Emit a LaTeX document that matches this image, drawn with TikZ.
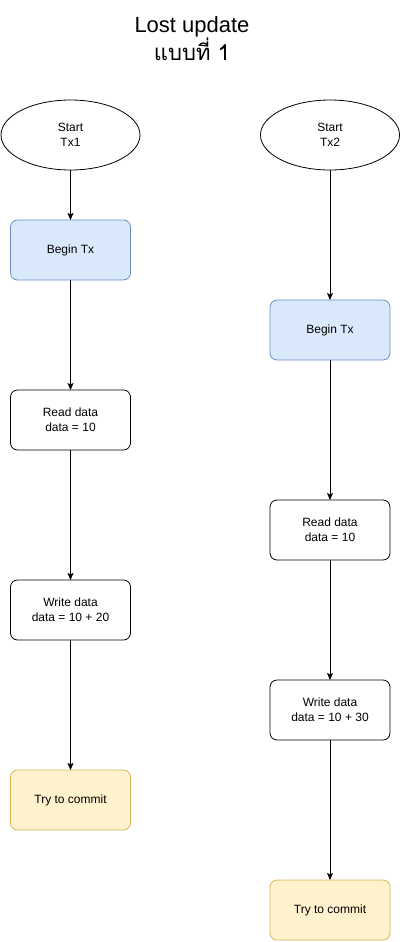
\documentclass[tikz,border=0pt]{standalone}
\usepackage{fontspec}
\setmainfont{Liberation Sans}
\newfontfamily\thaifont[Script=Thai]{Loma}
\usepackage{xcolor}
\usetikzlibrary{shapes.geometric}
\usetikzlibrary{arrows.meta, positioning}

\definecolor{txblue}{HTML}{DAE8FC}
\definecolor{txblueline}{HTML}{6C8EBF}
\definecolor{txyellow}{HTML}{FFF2CC}
\definecolor{txyellowline}{HTML}{D6B656}

\begin{document}
\begin{tikzpicture} [
       x=1pt, y=1pt,
       every path/.append style={line width=0.8pt},
       startnode/.style={ellipse, draw, inner sep=0pt, outer sep=0pt,
               minimum width=139pt, minimum height=70pt,
               align=center, font=\fontsize{12}{15}\selectfont},
       stepbox/.style={rectangle, draw, rounded corners=7pt,
               inner sep=0pt, outer sep=0pt,
               minimum width=120pt, minimum height=60pt,
               align=center, font=\fontsize{12}{15}\selectfont},
       beginbox/.style={stepbox, draw=txblueline, fill=txblue},
       commitbox/.style={stepbox, draw=txyellowline, fill=txyellow},
       line/.style     = { draw, line width=0.8pt,
               -{Stealth[length=7pt, width=6pt, inset=1.5pt]} },
       ]
       \useasboundingbox (0,0) rectangle (402,-942);
       \node (title) [align=center, font=\fontsize{22}{28}\selectfont] at (192,-39)
               {Lost update\\{\thaifont แบบที่ 1}};
       % transaction 1
       \node (start1) [startnode] at (70.5,-135) {Start\\Tx1};
       \node (begin1) [beginbox, below=50pt of start1] {Begin Tx};
       \node (read1) [stepbox, below=110pt of begin1] {Read data\\data = 10};
       \node (write1) [stepbox, below=130pt of read1] {Write data\\data = 10 + 20};
       \node (commit1) [commitbox, below=130pt of write1] {Try to commit};
       % transaction 2
       \node (start2) [startnode] at (330,-135) {Start\\Tx2};
       \node (begin2) [beginbox, below=130pt of start2] {Begin Tx};
       \node (read2) [stepbox, below=140pt of begin2] {Read data\\data = 10};
       \node (write2) [stepbox, below=120pt of read2] {Write data\\data = 10 + 30};
       \node (commit2) [commitbox, below=140pt of write2] {Try to commit};
        \begin{scope}[every path/.style=line]
        \path (start1) -- (begin1);
        \path (begin1) -- (read1);
        \path (read1) -- (write1);
        \path (write1) -- (commit1);
        \path (start2) -- (begin2);
        \path (begin2) -- (read2);
        \path (read2) -- (write2);
        \path (write2) -- (commit2);
\end{scope}
\end{tikzpicture}
\end{document}
